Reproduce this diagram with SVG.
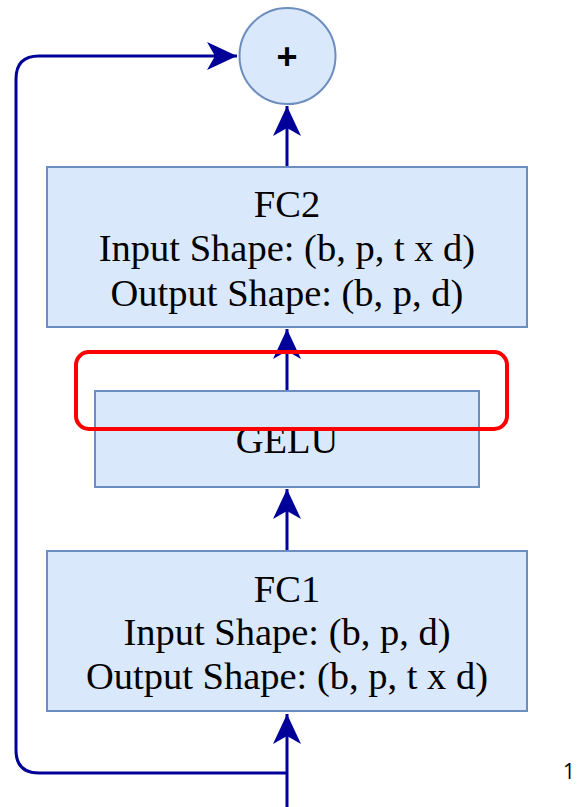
<svg xmlns="http://www.w3.org/2000/svg" width="577" height="807" viewBox="0 0 577 807">
  <style>
    .box { fill: #dae8fc; stroke: #6c8ebf; stroke-width: 2; }
    .lbl { font-family: "Liberation Serif", "Times New Roman", serif; font-size: 38.5px; fill: #000; text-anchor: middle; }
    .edge { fill: none; stroke: #000099; stroke-width: 3; }
  </style>
  <defs>
    <marker id="arr" markerUnits="userSpaceOnUse" viewBox="-31 -15 32 30" refX="0" refY="0" markerWidth="32" markerHeight="30" orient="auto">
      <path d="M0,0 L-30,-14 L-22,0 L-30,14 Z" fill="#000099"/>
    </marker>
  </defs>
  <rect width="577" height="807" fill="#ffffff"/>

  <g id="connectors">
    <path class="edge" d="M287,167 L287,106" marker-end="url(#arr)"/>
    <path class="edge" d="M287,391 L287,329" marker-end="url(#arr)"/>
    <path class="edge" d="M287,551 L287,489" marker-end="url(#arr)"/>
    <path class="edge" d="M287,807 L287,714" marker-end="url(#arr)"/>
    <path class="edge" d="M287,773 L39,773 Q16,773 16,750 L16,79 Q16,56 39,56 L237,56" marker-end="url(#arr)"/>
  </g>

  <g id="add">
    <circle class="box" cx="287.5" cy="56" r="48"/>
    <text x="287" y="69" font-family="Liberation Sans, Arial, sans-serif" font-size="36" font-weight="bold" text-anchor="middle" fill="#000">+</text>
  </g>

  <g id="fc2">
    <rect class="box" x="47" y="167" width="480" height="160"/>
    <text class="lbl" x="287" y="217">FC2</text>
    <text class="lbl" x="287" y="261">Input Shape: (b, p, t x d)</text>
    <text class="lbl" x="287" y="306">Output Shape: (b, p, d)</text>
  </g>

  <g id="gelu">
    <rect class="box" x="95" y="391" width="384" height="96"/>
    <text class="lbl" x="287" y="453">GELU</text>
  </g>

  <g id="fc1">
    <rect class="box" x="47" y="551" width="480" height="160"/>
    <text class="lbl" x="287" y="602">FC1</text>
    <text class="lbl" x="287" y="645">Input Shape: (b, p, d)</text>
    <text class="lbl" x="287" y="689">Output Shape: (b, p, t x d)</text>
  </g>

  <g id="highlight">
    <rect x="76" y="352" width="431" height="77" rx="13" ry="13" fill="none" stroke="#ff0000" stroke-width="4"/>
  </g>

  <text x="569" y="779" font-family="Open Sans, Liberation Sans, sans-serif" font-size="21" fill="#000" text-anchor="middle">1</text>
</svg>
